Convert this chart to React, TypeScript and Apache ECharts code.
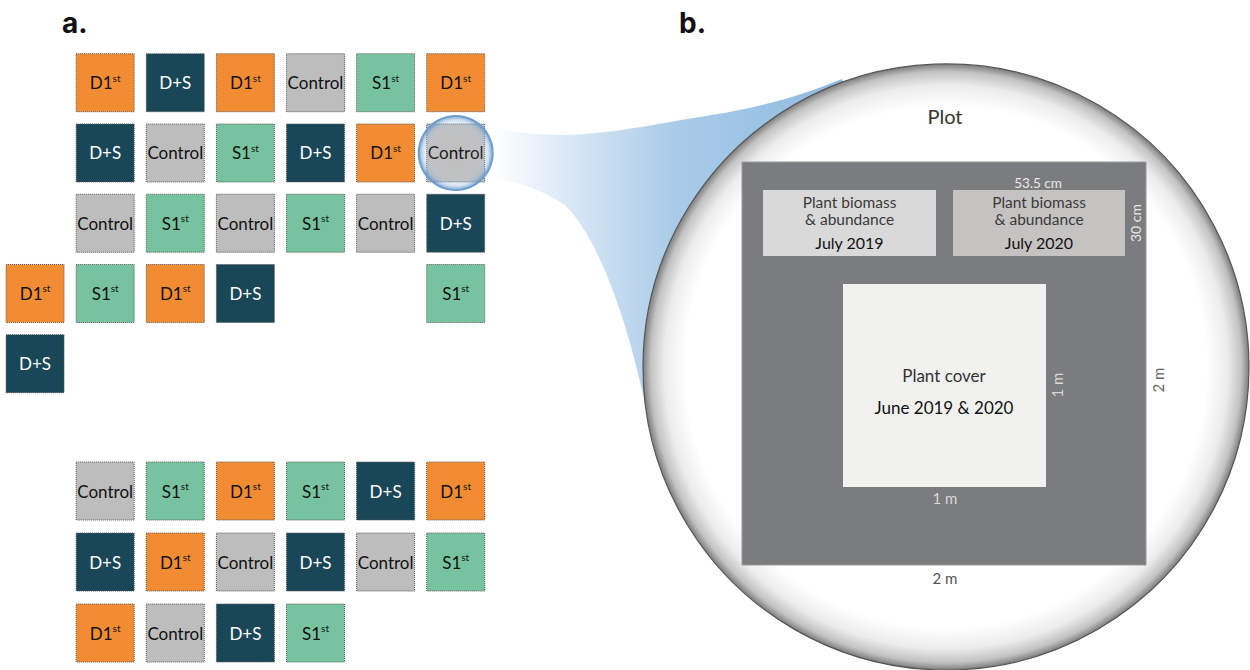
import React, { useEffect, useRef } from "react";
import * as echarts from "echarts";

// Field layout (top site): each row lists the treatment of each plot, "" = no plot
const topSiteRows: string[][] = [
  ["", "D1st", "D+S", "D1st", "Control", "S1st", "D1st"],
  ["", "D+S", "Control", "S1st", "D+S", "D1st", "Control"],
  ["", "Control", "S1st", "Control", "S1st", "Control", "D+S"],
  ["D1st", "S1st", "D1st", "D+S", "", "", "S1st"],
  ["D+S", "", "", "", "", "", ""],
];
// Field layout (bottom site)
const bottomSiteRows: string[][] = [
  ["", "Control", "S1st", "D1st", "S1st", "D+S", "D1st"],
  ["", "D+S", "D1st", "Control", "D+S", "Control", "S1st"],
  ["", "D1st", "Control", "D+S", "S1st", "", ""],
];
// plot (column,row) in the top site that is enlarged in panel b
const zoomedPlot: number[] = [6, 1];

const panelLabels = ["a.", "b."];
const plotTitle = "Plot";
const biomassLines = ["Plant biomass", "& abundance"];
const biomassDates = ["July 2019", "July 2020"];
const coverLines = ["Plant cover", "June 2019 & 2020"];
const sizeLabels = { sub: "53.5 cm", subH: "30 cm", cover: "1 m", plot: "2 m" };

const treatmentStyle: Record<string, { fill: string; text: string; label: string }> = {
  D1st: { fill: "#F18C33", text: "#111111", label: "{m|D1}{s|st}" },
  "D+S": { fill: "#1A4758", text: "#ffffff", label: "{m|D+S}" },
  Control: { fill: "#BDBDBD", text: "#111111", label: "{m|Control}" },
  S1st: { fill: "#78C39F", text: "#111111", label: "{m|S1}{s|st}" },
};

const FUNNEL_D =
  "M 492 127 C 565 146 640 126 700 117 C 760 108 800 96 842 79 L 946 367 L 652 440 C 640 370 610 250 565 205 C 540 188 515 181 492 180 Z";
echarts.graphic.registerShape("funnel", echarts.graphic.extendPath(FUNNEL_D, {}));

function cells(rows: string[][]) {
  const out: any[] = [];
  rows.forEach((r, ri) =>
    r.forEach((t, ci) => {
      if (!t) return;
      const st = treatmentStyle[t];
      out.push({
        value: [ci, ri],
        name: t,
        itemStyle: { color: st.fill },
        label: { color: st.text },
      });
    })
  );
  return out;
}

const FONT = "Lato, 'Noto Sans', sans-serif";

function txt(text: string, x: number, y: number, size: number, fill: string, extra: any = {}) {
  return {
    type: "text",
    x,
    y,
    rotation: extra.rotation || 0,
    z: 10,
    silent: true,
    style: {
      text,
      x: 0,
      y: 0,
      fill,
      fontSize: size,
      fontFamily: extra.fontFamily || FONT,
      fontWeight: extra.fontWeight || "normal",
      align: extra.align || "center",
      textAlign: extra.align || "center",
      verticalAlign: "middle",
      textVerticalAlign: "middle",
    },
  };
}

export default function App() {
  const ref = useRef<HTMLDivElement>(null);
  useEffect(() => {
    if (!ref.current) return;
    const chart = echarts.init(ref.current, null, { renderer: "svg" });
    const cellLabel = {
      show: true,
      position: "inside",
      formatter: (p: any) => treatmentStyle[p.name].label,
      rich: {
        m: { fontSize: 17, fontFamily: FONT, lineHeight: 20 },
        s: { fontSize: 10, fontFamily: FONT, lineHeight: 10, verticalAlign: "top" },
      },
    };
    const cellItem = { borderColor: "#555", borderWidth: 1, borderType: "dotted", opacity: 1 };
    const option: any = {
      animation: false,
      backgroundColor: "#ffffff",
      grid: [
        { left: -1, top: 47.6, width: 491.75, height: 351.25 },
        { left: -1, top: 455.5, width: 491.75, height: 213 },
      ],
      xAxis: [
        { gridIndex: 0, type: "value", min: -0.5, max: 6.5, show: false },
        { gridIndex: 1, type: "value", min: -0.5, max: 6.5, show: false },
      ],
      yAxis: [
        { gridIndex: 0, type: "value", min: -0.5, max: 4.5, inverse: true, show: false },
        { gridIndex: 1, type: "value", min: -0.5, max: 2.5, inverse: true, show: false },
      ],
      series: [
        {
          type: "scatter",
          xAxisIndex: 0,
          yAxisIndex: 0,
          symbol: "rect",
          symbolSize: 58,
          clip: false,
          silent: true,
          data: cells(topSiteRows),
          itemStyle: cellItem,
          label: cellLabel,
        },
        {
          type: "scatter",
          xAxisIndex: 1,
          yAxisIndex: 1,
          symbol: "rect",
          symbolSize: 58,
          clip: false,
          silent: true,
          data: cells(bottomSiteRows),
          itemStyle: cellItem,
          label: cellLabel,
        },
        {
          type: "scatter",
          xAxisIndex: 0,
          yAxisIndex: 0,
          symbol: "circle",
          symbolSize: 74,
          clip: false,
          silent: true,
          z: 5,
          data: [zoomedPlot],
          itemStyle: {
            opacity: 1,
            color: new echarts.graphic.RadialGradient(0.5, 0.5, 0.5, [
              { offset: 0, color: "rgba(255,255,255,0)" },
              { offset: 0.7, color: "rgba(210,222,236,0.12)" },
              { offset: 0.88, color: "rgba(150,185,220,0.4)" },
              { offset: 1, color: "rgba(70,125,190,0.7)" },
            ]),
            borderColor: "#6f9fcf",
            borderWidth: 2,
          },
        },
      ],
      graphic: [
        {
          type: "funnel",
          x: 0,
          y: 0,
          z: 1,
          silent: true,
          style: {
            fill: new echarts.graphic.LinearGradient(0, 0, 1, 0, [
              { offset: 0, color: "rgba(255,255,255,0.9)" },
              { offset: 0.12, color: "#e4eef8" },
              { offset: 0.4, color: "#aacbe8" },
              { offset: 1, color: "#7db1dc" },
            ]),
          },
        },
        {
          type: "circle",
          z: 2,
          silent: true,
          shape: { cx: 946, cy: 367, r: 303 },
          style: {
            fill: new echarts.graphic.RadialGradient(0.5, 0.5, 0.5, [
              { offset: 0, color: "#ffffff" },
              { offset: 0.86, color: "#ffffff" },
              { offset: 0.93, color: "#ececec" },
              { offset: 0.975, color: "#c2c2c2" },
              { offset: 1, color: "#7e7e7e" },
            ]),
            stroke: "#555555",
            lineWidth: 1.2,
          },
        },
        {
          type: "rect",
          z: 3,
          silent: true,
          shape: { x: 742, y: 162, width: 404, height: 403 },
          style: { fill: "#7b7c7e", stroke: "#9a9a9a", lineWidth: 1 },
        },
        {
          type: "rect",
          z: 4,
          silent: true,
          shape: { x: 763, y: 190, width: 173, height: 66 },
          style: { fill: "#d9d9d9" },
        },
        {
          type: "rect",
          z: 4,
          silent: true,
          shape: { x: 953, y: 190, width: 172, height: 66 },
          style: { fill: "#c5c3c2" },
        },
        {
          type: "rect",
          z: 4,
          silent: true,
          shape: { x: 843, y: 284, width: 203, height: 203 },
          style: { fill: "#f1f1f0" },
        },
        txt(panelLabels[0], 62, 23, 28, "#111", { align: "left", fontFamily: "Inter, 'DejaVu Sans', sans-serif", fontWeight: "bold" }),
        txt(panelLabels[1], 679, 23, 28, "#111", { align: "left", fontFamily: "Inter, 'DejaVu Sans', sans-serif", fontWeight: "bold" }),
        txt(plotTitle, 945, 116, 20, "#333"),
        txt(biomassLines[0], 849.5, 202, 15.5, "#3a3a3a"),
        txt(biomassLines[1], 849.5, 218.5, 15.5, "#3a3a3a"),
        txt(biomassDates[0], 849.5, 242, 16, "#111"),
        txt(biomassLines[0], 1039, 202, 15.5, "#3a3a3a"),
        txt(biomassLines[1], 1039, 218.5, 15.5, "#3a3a3a"),
        txt(biomassDates[1], 1039, 242, 16, "#111"),
        txt(sizeLabels.sub, 1038, 183, 13.5, "#e8e8e8"),
        txt(sizeLabels.subH, 1135, 223, 14, "#e8e8e8", { rotation: Math.PI / 2 }),
        txt(coverLines[0], 944, 375, 17, "#333"),
        txt(coverLines[1], 944, 407, 17, "#111"),
        txt(sizeLabels.cover, 1057, 385, 15, "#d8d8d8", { rotation: Math.PI / 2 }),
        txt(sizeLabels.cover, 945, 498, 15, "#d8d8d8"),
        txt(sizeLabels.plot, 945, 578, 15, "#555"),
        txt(sizeLabels.plot, 1158, 380, 15, "#666", { rotation: Math.PI / 2 }),
      ],
    };
    chart.setOption(option);
    return () => chart.dispose();
  }, []);
  return (
    <div
      ref={ref}
      style={{ position: "fixed", left: 0, top: 0, width: 1250, height: 670, background: "#fff" }}
    />
  );
}
